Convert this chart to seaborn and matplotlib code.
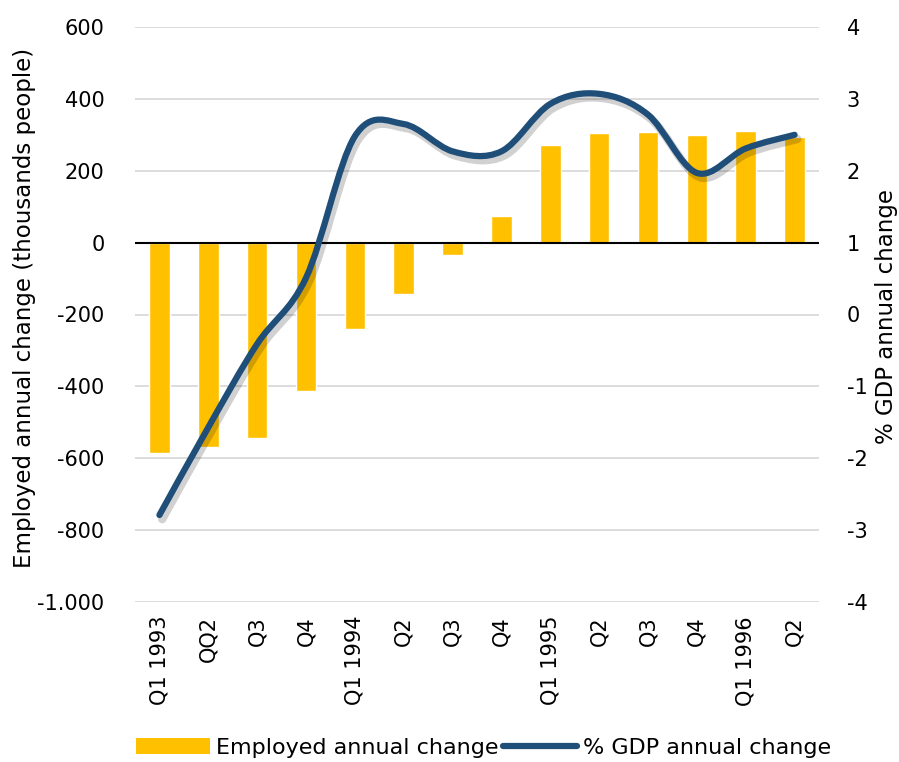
import matplotlib
matplotlib.use("Agg")
import matplotlib.pyplot as plt
import matplotlib.patheffects as pe
from matplotlib.path import Path
from matplotlib.patches import PathPatch, Patch
from matplotlib.lines import Line2D
from matplotlib.ticker import FuncFormatter
import numpy as np
import pandas as pd
import seaborn as sns

# Data
quarters = ["Q1 1993", "QQ2", "Q3", "Q4", "Q1 1994", "Q2", "Q3 ", "Q4 ",
            "Q1 1995", "Q2 ", "Q3  ", "Q4  ", "Q1 1996", "Q2  "]
employed_change = [-584, -570, -544, -412, -241, -142, -35, 75,
                   271, 306, 309, 299, 311, 293]
gdp_change = [-2.79, -1.57, -0.41, 0.51, 2.48, 2.65, 2.27, 2.27,
              2.93, 3.07, 2.78, 1.97, 2.31, 2.50]

BAR_COLOR = "#FFC000"
LINE_COLOR = "#1F4E79"
GRID_COLOR = "#D9D9D9"

sns.set_theme(style="white")
plt.rcParams["font.family"] = ["DejaVu Sans"]
plt.rcParams["axes.unicode_minus"] = False
plt.rcParams["text.color"] = "black"

df = pd.DataFrame({"quarter": quarters, "employed": employed_change})

fig = plt.figure(figsize=(8.99, 7.62), dpi=100)
ax = fig.add_axes([135 / 899, 1 - 602 / 762, (819 - 135) / 899, (602 - 27) / 762])

sns.barplot(data=df, x="quarter", y="employed", color=BAR_COLOR, width=0.42,
            saturation=1, ax=ax, zorder=2)

ax.set_ylim(-1000, 600)
ax.set_yticks(np.arange(-1000, 601, 200))
ax.yaxis.set_major_formatter(FuncFormatter(lambda v, _: f"{int(v):,}".replace(",", ".")))
ax.set_xlim(-0.5, len(quarters) - 0.5)
ax.grid(axis="y", color=GRID_COLOR, linewidth=1.3, zorder=0)
ax.set_axisbelow(True)
ax.axhline(0, color="black", linewidth=1.5, zorder=3)
for s in ax.spines.values():
    s.set_visible(False)
ax.tick_params(axis="both", length=0, labelsize=15, colors="black")
ax.tick_params(axis="y", pad=22)
ax.set_xticks(range(len(quarters)))
ax.set_xticklabels([q.strip() for q in quarters], rotation=90, va="top")
ax.tick_params(axis="x", pad=10)
ax.set_xlabel("")
ax.set_ylabel("")

# secondary axis for GDP
ax2 = ax.twinx()
ax2.set_ylim(-4, 4)
ax2.set_yticks(np.arange(-4, 5, 1))
for s in ax2.spines.values():
    s.set_visible(False)
ax2.tick_params(axis="y", length=0, labelsize=15, pad=20, colors="black")

fig.text(25 / 899, 1 - 308 / 762, "Employed annual change (thousands people)",
         rotation=90, ha="center", va="center", fontsize=16.5)
fig.text(886 / 899, 1 - 316 / 762, "% GDP annual change",
         rotation=90, ha="center", va="center", fontsize=16.5)

# smoothed line through the points (Catmull-Rom as cubic Bezier)
pts = np.column_stack([np.arange(len(gdp_change), dtype=float), gdp_change])
verts = [tuple(pts[0])]
codes = [Path.MOVETO]
for i in range(len(pts) - 1):
    p0 = pts[i - 1] if i > 0 else pts[i]
    p1 = pts[i]
    p2 = pts[i + 1]
    p3 = pts[i + 2] if i + 2 < len(pts) else pts[i + 1]
    c1 = p1 + (p2 - p0) / 6
    c2 = p2 - (p3 - p1) / 6
    verts += [tuple(c1), tuple(c2), tuple(p2)]
    codes += [Path.CURVE4] * 3
patch = PathPatch(Path(verts, codes), facecolor="none", edgecolor=LINE_COLOR,
                  linewidth=4.5, capstyle="round", zorder=4,
                  path_effects=[pe.SimpleLineShadow(offset=(2, -3), shadow_color="black",
                                                    alpha=0.18, linewidth=6),
                                pe.Normal()])
ax2.add_patch(patch)

handles = [Patch(facecolor=BAR_COLOR, edgecolor="none"),
           Line2D([0], [0], color=LINE_COLOR, linewidth=4.5)]
fig.legend(handles, ["Employed annual change", "% GDP annual change"],
           loc="center", bbox_to_anchor=(484 / 899, 1 - 748 / 762), ncol=2,
           frameon=False, fontsize=16, handlelength=3.3, handletextpad=0.3,
           columnspacing=0.2, borderpad=0)

fig.savefig("out.png", dpi=100)
